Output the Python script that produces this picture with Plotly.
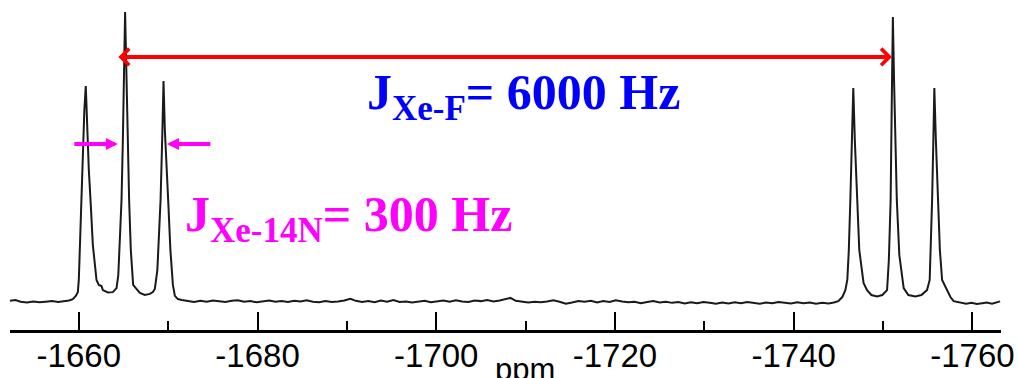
import plotly.graph_objects as go

# 129Xe NMR spectrum: chemical shift (ppm) and relative intensity (tallest line = 100)
ppm = [
    -1652.3, -1652.9, -1653.5, -1654.2, -1654.9, -1655.6, -1656.3, -1657.0, -1657.7, -1658.4, -1658.9,
    # low-field triplet
    -1659.33, -1659.66, -1659.89, -1660.00, -1660.11, -1660.30, -1660.45, -1660.62, -1660.78, -1660.95,
    -1661.12, -1661.31, -1661.57, -1661.98, -1662.24, -1662.54, -1662.69, -1663.25, -1663.81, -1664.22,
    -1664.42, -1664.59, -1664.78, -1664.93, -1665.07, -1665.18, -1665.32, -1665.49, -1665.63, -1665.82,
    -1666.08, -1666.38, -1666.83, -1667.39, -1667.95, -1668.29, -1668.51, -1668.79, -1668.96, -1669.15,
    -1669.33, -1669.48, -1669.63, -1669.80, -1670.00, -1670.25, -1670.53, -1670.75, -1671.09, -1671.53,
    # baseline between the multiplets
    -1672.2, -1672.9, -1673.6, -1674.3, -1675.0, -1675.7, -1676.4, -1677.1, -1677.8, -1678.5,
    -1679.2, -1679.9, -1680.6, -1681.3, -1682.0, -1682.7, -1683.4, -1684.1, -1684.8, -1685.5,
    -1686.2, -1686.9, -1687.6, -1688.3, -1689.0, -1689.7, -1690.4, -1691.0, -1691.7, -1692.4,
    -1693.1, -1693.8, -1694.5, -1695.2, -1695.9, -1696.6, -1697.3, -1698.0, -1698.7, -1699.4,
    -1700.1, -1700.8, -1701.5, -1702.2, -1702.9, -1703.6, -1704.3, -1705.0, -1705.7, -1706.4,
    -1707.1, -1707.8, -1708.3, -1708.9, -1709.6, -1710.3, -1711.0, -1711.7, -1712.4, -1713.1,
    -1713.8, -1714.5, -1715.2, -1715.9, -1716.6, -1717.3, -1718.0, -1718.7, -1719.4, -1720.1,
    -1720.8, -1721.5, -1722.2, -1722.9, -1723.6, -1724.3, -1725.0, -1725.7, -1726.4, -1727.1,
    -1727.8, -1728.5, -1729.2, -1729.9, -1730.6, -1731.3, -1732.0, -1732.7, -1733.4, -1734.1,
    -1734.8, -1735.5, -1736.2, -1736.9, -1737.6, -1738.3, -1739.0, -1739.7, -1740.4, -1741.1,
    -1741.8, -1742.5, -1743.2, -1743.9, -1744.5,
    # high-field triplet
    -1744.99, -1745.44, -1745.78, -1746.00, -1746.17, -1746.34, -1746.50, -1746.67, -1746.84, -1747.09,
    -1747.34, -1747.82, -1748.21, -1748.69, -1749.33, -1749.92, -1750.45, -1750.65, -1750.85, -1750.98,
    -1751.10, -1751.23, -1751.38, -1751.54, -1751.82, -1752.31, -1752.83, -1753.62, -1754.29, -1754.92,
    -1755.22, -1755.35, -1755.49, -1755.63, -1755.74, -1755.91, -1756.16, -1756.36, -1756.61, -1757.16,
    -1757.54, -1757.90, -1758.66,
    -1759.3, -1759.9, -1760.5, -1761.1, -1761.6, -1762.2, -1762.7, -1763.1,
]

intensity = [
    0.4, 0.7, 0.1, -0.2, 0.2, -0.1, 0.1, 0.3, 0.0, 0.2, 0.5,
    1.0, 2.1, 3.4, 7.6, 17.9, 35.2, 52.4, 66.2, 74.5, 59.3,
    45.5, 35.2, 19.7, 7.6, 5.9, 5.5, 4.1, 3.3, 3.4, 4.8,
    9.3, 21.4, 35.2, 55.9, 80.0, 100.0, 80.0, 52.4, 35.2, 17.9,
    5.9, 4.8, 3.1, 2.4, 2.8, 3.4, 4.5, 11.0, 21.4, 35.2,
    55.9, 76.2, 59.3, 45.5, 35.2, 17.9, 5.9, 2.1, 1.0, 0.7,
    0.3, 0.0, 0.4, 0.1, 0.5, 0.2, 0.0, 0.4, 0.6, 0.1,
    0.3, -0.1, 0.2, 0.5, 0.1, 0.3, 0.0, 0.4, 0.2, 0.6,
    0.1, -0.1, 0.3, 0.0, 0.2, 0.5, 1.1, 0.4, 0.0, 0.3,
    -0.1, 0.5, 0.1, 0.7, 0.0, 0.2, -0.2, 0.1, 0.4, -0.1,
    0.2, 0.5, 0.1, 0.6, 0.2, 0.0, 0.5, 0.3, 0.7, 0.2,
    0.5, 0.9, 1.4, 0.4, 0.0, -0.2, 0.1, -0.1, 0.2, 0.6,
    0.1, -0.6, -0.2, 0.3, 0.1, 0.4, -0.2, 0.3, 0.0, 0.6,
    0.2, -0.1, 0.1, -0.4, 0.0, 0.3, -0.2, 0.1, -0.3, 0.0,
    -0.5, -0.1, -0.4, 0.0, -0.3, -0.6, -0.2, -0.5, -0.1, -0.4,
    0.0, -0.3, -0.6, -0.2, -0.4, 0.0, -0.3, -0.5, -0.1, -0.4,
    -0.2, -0.6, -0.3, -0.5, -0.2,
    0.3, 1.7, 4.1, 7.6, 17.9, 35.2, 55.9, 73.8, 55.9, 35.2,
    17.9, 6.6, 4.1, 2.4, 1.9, 2.4, 4.1, 14.5, 35.2, 69.7,
    98.3, 76.6, 52.4, 35.2, 16.2, 4.8, 2.4, 1.9, 2.4, 4.1,
    7.6, 17.9, 35.2, 55.9, 73.8, 55.9, 35.2, 17.9, 7.6, 3.8,
    1.7, 0.3, -0.3,
    -0.6, -0.3, -0.7, -0.4, -0.2, -0.6, -0.3, 0.2,
]

tick_vals = [-1660, -1680, -1700, -1720, -1740, -1760]
tick_text = ["-1660", "-1680", "-1700", "-1720", "-1740", "-1760"]

# coupling markers (ppm positions and height of the arrows)
jxef_from, jxef_to, jxef_level = -1664.26, -1751.0, 84.5
jn_left_tail, jn_left_tip = -1659.33, -1664.37
jn_right_tail, jn_right_tip = -1674.89, -1669.86
jn_level = 54.5

fig = go.Figure()
fig.add_trace(go.Scatter(
    x=ppm, y=intensity, mode="lines",
    line=dict(color="#1a1a1a", width=2),
    hoverinfo="skip",
))

annotations = [
    # J(Xe-F) double-headed arrow between the two triplet centres
    dict(x=jxef_to, y=jxef_level, ax=jxef_from, ay=jxef_level,
         xref="x", yref="y", axref="x", ayref="y", text="",
         showarrow=True, arrowside="end+start",
         arrowhead=4, startarrowhead=4, arrowsize=0.8, startarrowsize=0.8,
         arrowwidth=4, arrowcolor="#ff0000", standoff=0, startstandoff=0),
    # J(Xe-14N) arrows pointing at the central line of the triplet
    dict(x=jn_left_tip, y=jn_level, ax=jn_left_tail, ay=jn_level,
         xref="x", yref="y", axref="x", ayref="y", text="",
         showarrow=True, arrowhead=2, arrowsize=0.6, arrowwidth=4,
         arrowcolor="#ff00ff", standoff=0),
    dict(x=jn_right_tip, y=jn_level, ax=jn_right_tail, ay=jn_level,
         xref="x", yref="y", axref="x", ayref="y", text="",
         showarrow=True, arrowhead=2, arrowsize=0.6, arrowwidth=4,
         arrowcolor="#ff00ff", standoff=0),
    dict(text="<b>J<sub>Xe-F</sub>= 6000 Hz</b>", xref="paper", yref="paper",
         x=0.518, y=0.709, xanchor="center", yanchor="middle", showarrow=False,
         font=dict(family="Liberation Serif", size=50, color="#0000ff")),
    dict(text="<b>J<sub>Xe-14N</sub>= 300 Hz</b>", xref="paper", yref="paper",
         x=0.342, y=0.339, xanchor="center", yanchor="middle", showarrow=False,
         font=dict(family="Liberation Serif", size=50, color="#ff00ff")),
    dict(text="ppm", xref="paper", yref="paper", x=0.5197, y=-0.0606,
         xanchor="center", yanchor="top", showarrow=False,
         font=dict(family="Liberation Sans", size=31, color="black")),
]

fig.update_layout(
    width=1018, height=378,
    margin=dict(l=10, r=17, t=0, b=48),
    paper_bgcolor="white", plot_bgcolor="white",
    showlegend=False,
    annotations=annotations,
    xaxis=dict(
        range=[-1652.3, -1763.2],
        showline=True, linecolor="black", linewidth=3,
        ticks="inside", ticklen=18, tickwidth=1.5, tickcolor="black",
        tickmode="array", tickvals=tick_vals, ticktext=tick_text,
        tickfont=dict(family="Liberation Sans", size=33, color="black"),
        ticklabelstandoff=-6,
        minor=dict(dtick=10, tick0=-1660, ticks="inside", ticklen=9,
                   tickwidth=1.5, tickcolor="black"),
        showgrid=False, zeroline=False,
    ),
    yaxis=dict(visible=False, range=[-9.66, 104.14]),
)

fig.write_html("out.html")
